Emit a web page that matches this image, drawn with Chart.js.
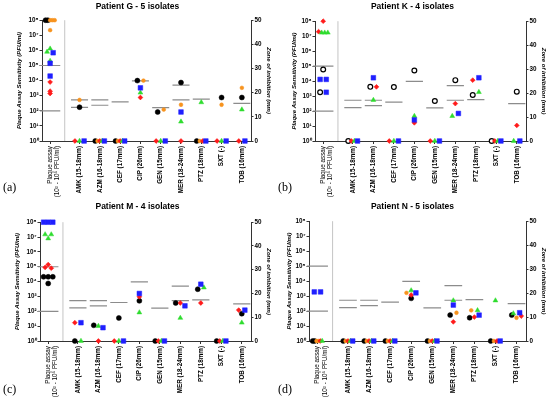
<!DOCTYPE html>
<html>
<head>
<meta charset="utf-8">
<script src="https://cdn.jsdelivr.net/npm/chart.js@4.4.1/dist/chart.umd.min.js"></script>
<style>
  body { margin: 0; width: 550px; height: 403px; background: #fff; position: relative; overflow: hidden; }
  .panel { position: absolute; width: 275px; height: 200px; }
  .tag { position: absolute; font-family: "Liberation Serif", serif; font-size: 12px; color: #000; }
</style>
</head>
<body>
<div class="panel" style="left:0;top:0"><canvas id="chartG" width="275" height="200"></canvas></div>
<div class="panel" style="left:275px;top:0"><canvas id="chartK" width="275" height="200"></canvas></div>
<div class="panel" style="left:0;top:200px"><canvas id="chartM" width="275" height="200"></canvas></div>
<div class="panel" style="left:275px;top:200px"><canvas id="chartN" width="275" height="200"></canvas></div>
<div class="tag" style="left:3px;top:180px">(a)</div>
<div class="tag" style="left:278px;top:180px">(b)</div>
<div class="tag" style="left:3px;top:382px">(c)</div>
<div class="tag" style="left:278px;top:382px">(d)</div>
<script>
const drugs = ["AMK (15-18mm)", "AZM (16-18mm)", "CEF (17mm)", "CIP (26mm)", "GEN (15mm)",
               "MER (18-24mm)", "PTZ (18mm)", "SXT (-)", "TOB (16mm)"];
const plaqueLabel = ["Plaque assay", "(10² - 10⁵ PFU/ml)"];
const pfuTicks = [1, 10, 100, 1e3, 1e4, 1e5, 1e6, 1e7, 1e8];
const zoneTicks = [0, 10, 20, 30, 40, 50];
const plaqueCutoffs = [1e2, 1e5];
// breakpoint lines (mm), one list per drug
const drugCutoffs = [[13.9, 17], [14.8, 17], [16.2], [24.9], [13.8], [17, 23.1], [17.3], [], [15.6]];

// Patient G - plaque assay (PFU/ml) and zones (mm, order as drugs)
const gPfuBlack  = [1e8, 1e8];
const gPfuOrange = [1e8, 1e8, 1e8, 2.2e7];
const gPfuRed    = [8e3, 2e3, 1.4e3];
const gPfuGreen  = [1.3e6, 8e5, 2e5];
const gPfuBlue   = [7e5, 1.4e5, 2e4];
const gZoneBlack  = [14, 0, 0, 25, 12, 24.2, 0, 18, 18];
const gZoneOrange = [17, 0, 0, 25, 13, 15, 0, 15, 22];
const gZoneRed    = [0, 0, 0, 18, 0, 0, 0, 0, 0];
const gZoneGreen  = [0, 0, 0, 20, 0, 8, 16, 0, 13];
const gZoneBlue   = [0, 0, 0, 22, 0, 12, 0, 0, 0];

// Patient K
const kPfuOpen  = [6e4, 1.8e3];
const kPfuRed   = [1e8, 2e7];
const kPfuGreen = [1.7e7, 1.7e7, 1.7e7];
const kPfuBlue  = [1.3e4, 1.3e4, 1.8e3];
const kZoneOpen  = [0, 22.6, 22.5, 29.4, 16.7, 25.4, 19.2, 0, 20.6];
const kZoneRed   = [0, 22.6, 0, 7.6, 0, 15.6, 25.4, 0, 6.5];
const kZoneGreen = [0, 17.1, 0, 10.4, 0, 10.4, 20.4, 0, 0];
const kZoneBlue  = [0, 26.4, 0, 8.8, 0, 11.5, 26.4, 0, 0];

// Patient M
const mPfuBlack = [2.1e4, 2.1e4, 2.1e4, 7.5e3];
const mPfuRed   = [1.4e5, 9e4, 8e4];
const mPfuGreen = [1.5e7, 1.5e7, 8e6];
const mPfuBlue  = [1e8, 1e8, 1e8];
const mZoneBlack = [0, 6.6, 9.7, 16.9, 0, 16, 21.8, 0, 11.5];
const mZoneRed   = [7.7, 0, 0, 18.6, 0, 16, 16, 0, 13];
const mZoneGreen = [0, 6.3, 0, 12, 0, 9.7, 22.5, 0, 7.7];
const mZoneBlue  = [7.7, 5.6, 0, 20, 0, 14.8, 23.9, 0, 13];

// Patient N
const nPfuBlack  = [1, 1];
const nPfuOrange = [1, 1];
const nPfuRed    = [1];
const nPfuGreen  = [1];
const nPfuBlue   = [1.9e3, 1.9e3];
const nZoneBlack  = [0, 0, 0, 17.8, 0, 10.8, 9.7, 0, 10.8];
const nZoneOrange = [0, 0, 0, 20.1, 0, 11.8, 12.8, 0, 9.7];
const nZoneRed    = [0, 0, 0, 19.2, 0, 8, 10, 0, 10.4];
const nZoneGreen  = [0, 0, 0, 21.1, 0, 16.9, 12.8, 16.9, 11.5];
const nZoneBlue   = [0, 0, 0, 20.1, 0, 15, 10.8, 0, 11.8];

// marker styles
const BLACK  = { shape: 'circle',   r: 2.5, fill: '#000000', line: '#000000', w: 0.5 };
const ORANGE = { shape: 'circle',   r: 1.9, fill: '#f7931e', line: '#f7931e', w: 0.5 };
const RED    = { shape: 'rectRot',  r: 2.4, fill: '#ff1a1a', line: '#ff1a1a', w: 0.6 };
const GREEN  = { shape: 'triangle', r: 2.8, fill: '#2edc2e', line: '#2edc2e', w: 0.5 };
const BLUE   = { shape: 'rect',     r: 3.3, fill: '#1f1fff', line: '#1f1fff', w: 0.5 };
const OPEN   = { shape: 'circle',   r: 2.4, fill: '#ffffff', line: '#000000', w: 1.2 };

const PLAQUE_X = 0;
const SEP_X = 0.72;
const drugX = drugs.map((d, i) => 1.45 + i);
const tickX = [PLAQUE_X].concat(drugX);
const tickText = [plaqueLabel].concat(drugs);

const panels = [
  { id: 'chartG', title: 'Patient G - 5 isolates', leftW: 42, titlePad: 16, gap: 8, isolates: [
    { st: BLACK, pfu: gPfuBlack, zone: gZoneBlack },
    { st: ORANGE, pfu: gPfuOrange, zone: gZoneOrange },
    { st: RED, pfu: gPfuRed, zone: gZoneRed },
    { st: GREEN, pfu: gPfuGreen, zone: gZoneGreen },
    { st: BLUE, pfu: gPfuBlue, zone: gZoneBlue }] },
  { id: 'chartK', title: 'Patient K - 4 isolates', leftW: 40, titlePad: 16, gap: 9, isolates: [
    { st: OPEN, pfu: kPfuOpen, zone: kZoneOpen },
    { st: RED, pfu: kPfuRed, zone: kZoneRed },
    { st: GREEN, pfu: kPfuGreen, zone: kZoneGreen },
    { st: BLUE, pfu: kPfuBlue, zone: kZoneBlue }] },
  { id: 'chartM', title: 'Patient M - 4 isolates', leftW: 40, titlePad: 14, gap: 10, isolates: [
    { st: BLACK, pfu: mPfuBlack, zone: mZoneBlack },
    { st: RED, pfu: mPfuRed, zone: mZoneRed },
    { st: GREEN, pfu: mPfuGreen, zone: mZoneGreen },
    { st: BLUE, pfu: mPfuBlue, zone: mZoneBlue }] },
  { id: 'chartN', title: 'Patient N - 5 isolates', leftW: 34, titlePad: 11, gap: 9, isolates: [
    { st: BLACK, pfu: nPfuBlack, zone: nZoneBlack },
    { st: ORANGE, pfu: nPfuOrange, zone: nZoneOrange },
    { st: RED, pfu: nPfuRed, zone: nZoneRed },
    { st: GREEN, pfu: nPfuGreen, zone: nZoneGreen },
    { st: BLUE, pfu: nPfuBlue, zone: nZoneBlue }] }
];

const SUP = { '0': '⁰', '1': '¹', '2': '²', '3': '³', '4': '⁴', '5': '⁵', '6': '⁶', '7': '⁷', '8': '⁸', '9': '⁹' };
const FONT = '"Liberation Sans", Arial, sans-serif';

// spread overlapping points sideways (like a column scatter)
function spreadOffsets(vals, tol) {
  const order = vals.map((v, i) => i).sort((a, b) => vals[a] - vals[b]);
  const off = new Array(vals.length).fill(0);
  let group = [];
  const flush = () => {
    const n = group.length;
    const step = n > 1 ? Math.min(0.3, 0.45 / (n - 1)) : 0;
    group.sort((a, b) => a - b).forEach((g, k) => { off[g] = (k - (n - 1) / 2) * step; });
    group = [];
  };
  order.forEach(i => {
    if (group.length && vals[i] - vals[group[0]] > tol) flush();
    group.push(i);
  });
  flush();
  return off;
}

function pointSet(st, data, axis, i) {
  return {
    type: 'scatter', data: data, yAxisID: axis, order: 5 - i, clip: false,
    pointStyle: st.shape, pointRadius: st.r, pointBackgroundColor: st.fill,
    pointBorderColor: st.line, pointBorderWidth: st.w, pointHoverRadius: st.r
  };
}

function lineSet(data, axis, color, width) {
  return {
    type: 'line', data: data, yAxisID: axis, order: 20, clip: false,
    borderColor: color, borderWidth: width, pointRadius: 0, spanGaps: false, fill: false
  };
}

function buildDatasets(p) {
  const sets = [];
  const cut1 = [];
  plaqueCutoffs.forEach(v => cut1.push({ x: PLAQUE_X - 0.5, y: v }, { x: PLAQUE_X + 0.5, y: v }, { x: PLAQUE_X, y: null }));
  sets.push(lineSet(cut1, 'y', '#8c8c8c', 1.2));
  const cut2 = [];
  drugCutoffs.forEach((arr, c) => arr.forEach(v =>
    cut2.push({ x: drugX[c] - 0.42, y: v }, { x: drugX[c] + 0.42, y: v }, { x: drugX[c], y: null })));
  sets.push(lineSet(cut2, 'y2', '#8c8c8c', 1.2));
  sets.push(lineSet([{ x: SEP_X, y: 0 }, { x: SEP_X, y: 50 }], 'y2', '#c4c4c4', 1));

  const pfuPts = [];
  p.isolates.forEach((iso, i) => iso.pfu.forEach(v => pfuPts.push({ i: i, v: v })));
  const pfuOff = spreadOffsets(pfuPts.map(q => Math.log10(q.v)), 0.12);
  const zoneOff = drugs.map((d, c) => spreadOffsets(p.isolates.map(iso => iso.zone[c]), 1.2));

  p.isolates.forEach((iso, i) => {
    const pdata = [];
    pfuPts.forEach((q, k) => { if (q.i === i) pdata.push({ x: PLAQUE_X + pfuOff[k], y: q.v }); });
    const zdata = iso.zone.map((v, c) => ({ x: drugX[c] + zoneOff[c][i], y: v }));
    sets.push(pointSet(iso.st, pdata, 'y', i));
    sets.push(pointSet(iso.st, zdata, 'y2', i));
  });
  return sets;
}

function makeChart(p) {
  const ctx = document.getElementById(p.id).getContext('2d');
  return new Chart(ctx, {
    type: 'scatter',
    data: { datasets: buildDatasets(p) },
    options: {
      responsive: false,
      animation: false,
      events: [],
      layout: { padding: 0 },
      plugins: {
        legend: { display: false },
        tooltip: { enabled: false },
        title: {
          display: true, text: p.title, color: '#000',
          font: { family: FONT, size: 8.5, weight: 'bold' },
          padding: { top: 2, bottom: p.gap }
        }
      },
      scales: {
        x: {
          type: 'linear', min: -0.4, max: 9.9,
          afterBuildTicks: s => { s.ticks = tickX.map(v => ({ value: v })); },
          afterFit: s => { s.height = 59; },
          ticks: {
            autoSkip: false, minRotation: 90, maxRotation: 90, padding: 2, color: '#000',
            callback: (v, i) => tickText[i],
            font: c => ({ family: FONT, size: 6.3, weight: c.index === 0 ? 'normal' : 'bold' })
          },
          grid: { drawOnChartArea: false, tickLength: 3, color: '#333' },
          border: { color: '#333', width: 1 }
        },
        y: {
          type: 'logarithmic', position: 'left', min: 1, max: 1e8,
          afterBuildTicks: s => { s.ticks = pfuTicks.map(v => ({ value: v })); },
          afterFit: s => { s.width = p.leftW; },
          ticks: {
            padding: 1, color: '#000',
            font: { family: FONT, size: 6.3, weight: 'bold' },
            callback: v => '10' + String(Math.round(Math.log10(v))).split('').map(d => SUP[d]).join('')
          },
          grid: { drawOnChartArea: false, tickLength: 2.5, color: '#333' },
          border: { color: '#333', width: 1 },
          title: {
            display: true, text: 'Plaque Assay Sensitivity (PFU/ml)', color: '#000',
            font: { family: FONT, size: 6, weight: 'bold', style: 'italic' },
            padding: { top: p.titlePad, bottom: 0 }
          }
        },
        y2: {
          type: 'linear', position: 'right', min: 0, max: 50,
          afterBuildTicks: s => { s.ticks = zoneTicks.map(v => ({ value: v })); },
          afterFit: s => { s.width = 24; },
          ticks: {
            padding: 1, color: '#000',
            font: { family: FONT, size: 6.3, weight: 'bold' }
          },
          grid: { drawOnChartArea: false, tickLength: 2.5, color: '#333' },
          border: { color: '#333', width: 1 },
          title: {
            display: true, text: 'Zone of inhibition (mm)', color: '#000',
            font: { family: FONT, size: 6, weight: 'bold', style: 'italic' },
            padding: { top: 3, bottom: 0 }
          }
        }
      }
    }
  });
}

panels.forEach(makeChart);
</script>
</body>
</html>
